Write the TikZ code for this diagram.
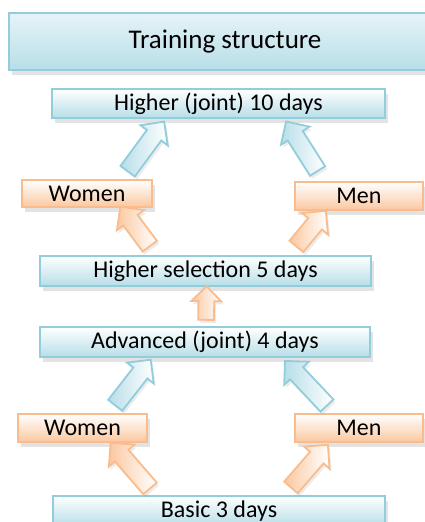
\documentclass[tikz,border=0pt]{standalone}
\usepackage{fontspec}
\setmainfont{Carlito}
\usetikzlibrary{shapes.arrows,shadows,calc}
\definecolor{boxline}{RGB}{146,205,220}
\definecolor{boxfill}{RGB}{183,222,232}
\definecolor{orline}{RGB}{250,188,140}
\definecolor{orfill}{RGB}{251,200,160}
\tikzset{
  boxshadow/.style={drop shadow={opacity=0.22,shadow xshift=3pt,shadow yshift=-5pt}},
  bluebox/.style={draw=boxline, line width=2.4pt, top color=white, bottom color=boxfill,
    boxshadow, inner sep=0pt, font=\fontsize{24}{28}\selectfont},
  orbox/.style={draw=orline, line width=2.4pt, top color=white, bottom color=orfill,
    boxshadow, inner sep=0pt, font=\fontsize{24}{28}\selectfont},
  bluearrow/.style={draw=boxline, line width=1.8pt, left color=boxfill, right color=white,
    drop shadow={opacity=0.15,shadow xshift=2pt,shadow yshift=-3pt}},
  orarrow/.style={draw=orline, line width=1.8pt, left color=orfill, right color=white,
    drop shadow={opacity=0.15,shadow xshift=2pt,shadow yshift=-3pt}},
}
% block arrow from tail to tip
\newcommand\fatarrow[4][8pt]{%
  \path let \p1=#3, \p2=#4, \n1={atan2(\y2-\y1,\x2-\x1)}, \n2={veclen(\x2-\x1,\y2-\y1)} in
    node[#2, single arrow, rotate=\n1, inner xsep=0pt, inner ysep=#1, minimum width=0pt,
      single arrow head extend=#1, single arrow head indent=0pt,
      minimum height=\n2] at ($#3!0.5!#4$) {};}
\begin{document}
\begin{tikzpicture}[x=1pt,y=-1pt]
  \useasboundingbox (0,0) rectangle (425,522);

  \node[bluebox, minimum width=432pt, minimum height=57pt, top color=boxfill!35,
    font=\fontsize{27}{31}\selectfont] (title) at (225,41.5) {Training structure};
  \node[bluebox, minimum width=333pt, minimum height=29pt] (hi10) at (218.5,103.5) {Higher (joint) 10 days};
  \node[orbox, minimum width=130pt, minimum height=27pt] (w1) at (87,193.5) {Women};
  \node[orbox, minimum width=128pt, minimum height=28pt] (m1) at (359,196) {Men};
  \node[bluebox, minimum width=331pt, minimum height=30pt] (hs5) at (205.5,271) {Higher selection 5 days};
  \node[bluebox, minimum width=330pt, minimum height=30pt] (adv4) at (205,342) {Advanced (joint) 4 days};
  \node[orbox, minimum width=129pt, minimum height=28pt] (w2) at (82.5,428) {Women};
  \node[orbox, minimum width=128pt, minimum height=28pt] (m2) at (359,428) {Men};
  \node[bluebox, minimum width=332pt, minimum height=30pt] (b3) at (219,511) {Basic 3 days};

  \fatarrow{bluearrow}{([xshift=38pt,yshift=4pt]w1.north)}{([xshift=-57pt,yshift=-6pt]hi10.south)}
  \fatarrow{bluearrow}{([xshift=-39pt,yshift=6pt]m1.north)}{([xshift=70pt,yshift=-6pt]hi10.south)}
  \fatarrow{orarrow}{([xshift=-53pt,yshift=5pt]hs5.north)}{([xshift=36pt,yshift=-2pt]w1.south)}
  \fatarrow{orarrow}{([xshift=88pt,yshift=5pt]hs5.north)}{([xshift=-36pt,yshift=-3pt]m1.south)}
  \fatarrow[7pt]{orarrow}{([xshift=1pt,yshift=2pt]adv4.north)}{([xshift=1pt,yshift=-3pt]hs5.south)}
  \fatarrow{bluearrow}{([xshift=30pt,yshift=4pt]w2.north)}{([xshift=-57pt,yshift=-5pt]adv4.south)}
  \fatarrow{bluearrow}{([xshift=-29pt,yshift=4pt]m2.north)}{([xshift=83pt,yshift=-6pt]adv4.south)}
  \fatarrow{orarrow}{([xshift=-66pt,yshift=3pt]b3.north)}{([xshift=31pt,yshift=-3pt]w2.south)}
  \fatarrow{orarrow}{([xshift=69pt,yshift=4pt]b3.north)}{([xshift=-34pt,yshift=-5pt]m2.south)}
\end{tikzpicture}
\end{document}
